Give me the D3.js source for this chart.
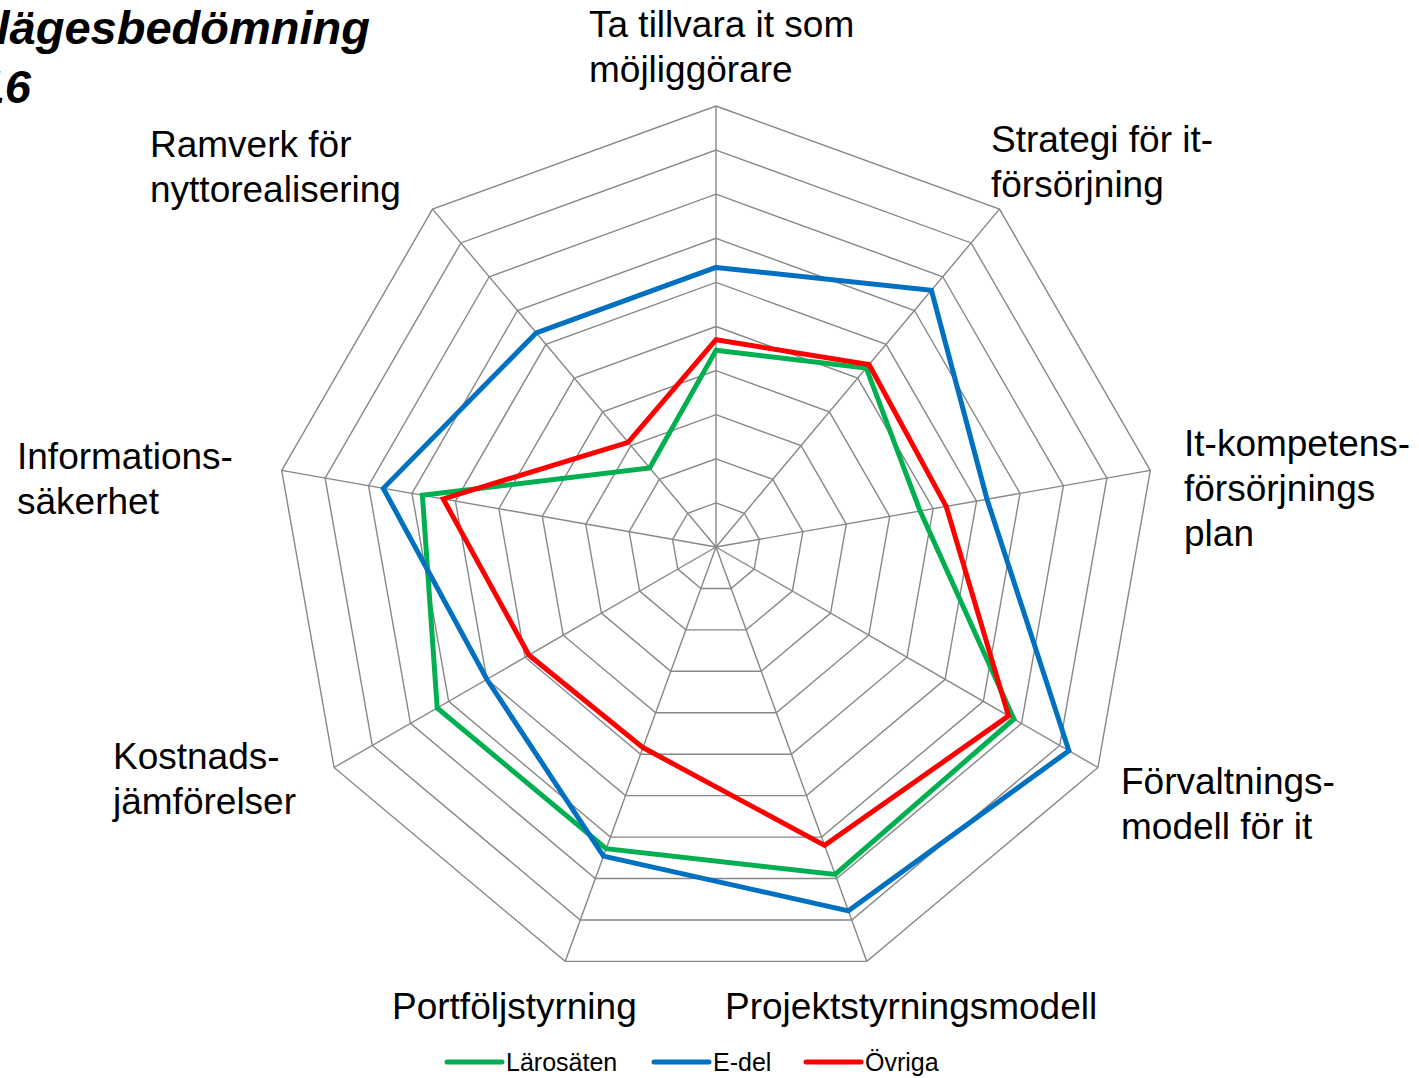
<!DOCTYPE html>
<html>
<head>
<meta charset="utf-8">
<script src="https://cdn.jsdelivr.net/npm/d3@7"></script>
<style>
  body { margin: 0; background: #fff; }
  svg { display: block; font-family: "Liberation Sans", Arial, sans-serif; }
</style>
</head>
<body>
<div id="chart"></div>
<script>
// axes, clockwise from the top
const axes = [
  ["Ta tillvara it som", "möjliggörare"],
  ["Strategi för it-", "försörjning"],
  ["It-kompetens-", "försörjnings", "plan"],
  ["Förvaltnings-", "modell för it"],
  ["Projektstyrningsmodell"],
  ["Portföljstyrning"],
  ["Kostnads-", "jämförelser"],
  ["Informations-", "säkerhet"],
  ["Ramverk för", "nyttorealisering"]
];

const seriesNames = ["Lärosäten", "E-del", "Övriga"];
const larosaten = [2.23, 2.65, 2.35, 3.9, 3.95, 3.64, 3.65, 3.38, 1.17];
const edel      = [3.17, 3.8, 3.12, 4.62, 4.39, 3.73, 3.0, 3.83, 3.17];
const ovriga    = [2.35, 2.7, 2.65, 3.83, 3.6, 2.42, 2.45, 3.14, 1.55];
const colors = ["#00b050", "#0070c0", "#ff0000"];

const maxValue = 5;
const levels = d3.range(0.5, maxValue + 0.01, 0.5);

const width = 1419;
const height = 1078;
const cx = 716;
const cy = 547;
const radius = 441;

const r = d3.scaleLinear().domain([0, maxValue]).range([0, radius]);
const angle = i => i * 2 * Math.PI / axes.length;
const point = (i, v) => [cx + r(v) * Math.sin(angle(i)), cy - r(v) * Math.cos(angle(i))];

const svg = d3.select("#chart").append("svg")
  .attr("width", width)
  .attr("height", height);

// title (cut off on the left like the original slide)
svg.append("text")
  .attr("text-anchor", "end")
  .attr("font-size", 47)
  .attr("font-weight", "bold")
  .attr("font-style", "italic")
  .selectAll("tspan")
  .data(["Nulägesbedömning", "2016"])
  .join("tspan")
  .attr("x", (d, i) => i === 0 ? 370 : 31)
  .attr("y", (d, i) => 44 + i * 59)
  .text(d => d);

// grid
const gGrid = svg.append("g")
  .attr("fill", "none")
  .attr("stroke", "#878787")
  .attr("stroke-width", 1.4);

gGrid.selectAll("polygon")
  .data(levels)
  .join("polygon")
  .attr("points", v => axes.map((a, i) => point(i, v).join(",")).join(" "));

gGrid.selectAll("line")
  .data(axes)
  .join("line")
  .attr("x1", cx)
  .attr("y1", cy)
  .attr("x2", (d, i) => point(i, maxValue)[0])
  .attr("y2", (d, i) => point(i, maxValue)[1]);

// series
const radarLine = d3.lineRadial()
  .angle((d, i) => angle(i))
  .radius(d => r(d))
  .curve(d3.curveLinearClosed);

svg.append("g")
  .attr("transform", `translate(${cx},${cy})`)
  .selectAll("path")
  .data([larosaten, edel, ovriga])
  .join("path")
  .attr("d", radarLine)
  .attr("fill", "none")
  .attr("stroke", (d, i) => colors[i])
  .attr("stroke-width", 5)
  .attr("stroke-linejoin", "miter");

// axis labels
const labelPos = [
  [589, 37], [991, 152], [1184, 456], [1121, 794], [725, 1019],
  [392, 1019], [113, 769], [17, 469], [150, 157]
];

svg.append("g")
  .attr("font-size", 37)
  .attr("fill", "#000")
  .selectAll("text")
  .data(axes)
  .join("text")
  .each(function (d, i) {
    d3.select(this).selectAll("tspan")
      .data(d)
      .join("tspan")
      .attr("x", labelPos[i][0])
      .attr("y", (t, j) => labelPos[i][1] + j * 45)
      .text(t => t);
  });

// legend
const legendX = [447, 654, 806];
const legend = svg.append("g")
  .selectAll("g")
  .data(seriesNames)
  .join("g")
  .attr("transform", (d, i) => `translate(${legendX[i]},1062)`);

legend.append("line")
  .attr("x1", 0)
  .attr("x2", 55)
  .attr("stroke", (d, i) => colors[i])
  .attr("stroke-width", 5)
  .attr("stroke-linecap", "round");

legend.append("text")
  .attr("x", 59)
  .attr("y", 9)
  .attr("font-size", 25)
  .text(d => d);
</script>
</body>
</html>
